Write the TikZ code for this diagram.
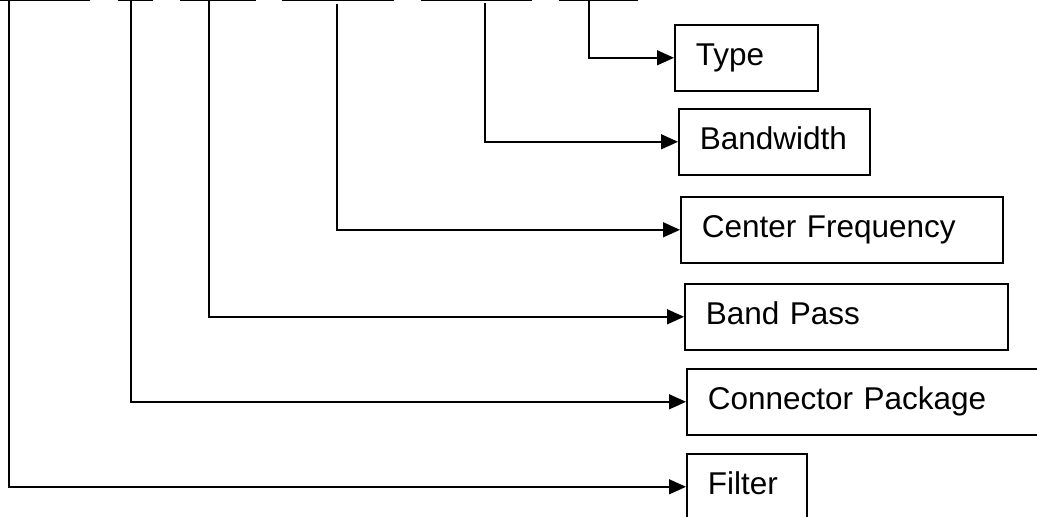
\documentclass[tikz,border=0pt]{standalone}
\usepackage{fontspec}
\setmainfont{Liberation Sans}
\usetikzlibrary{arrows.meta,positioning}

\begin{document}
\begin{tikzpicture}[
    x=1pt, y=-1pt,
    part/.style={draw, line width=1.6pt, anchor=north west, inner xsep=21pt, inner ysep=0pt,
                 minimum height=66pt, text height=24pt, text depth=8pt, align=left,
                 font=\fontsize{31.5}{36}\selectfont},
    link/.style={-{Triangle[length=17pt, width=15pt]}, line width=1.4pt},
    bar/.style={line width=1.6pt}
]
\path[use as bounding box, clip] (0,0) rectangle (1037,517);

% boxes
\node[part, text width=101pt] (typ) at (674,24) {Type};
\node[part, text width=149pt] (bw)  at (678,108) {Bandwidth};
\node[part, text width=280pt] (cf)  at (680,196) {Center Frequency};
\node[part, text width=281pt] (bp)  at (684,283) {Band Pass};
\node[part, text width=318pt] (cp)  at (686,368) {Connector Package};
\node[part, text width=78pt]  (flt) at (686,453) {Filter};

% part number underlines
\foreach \a/\b in {0/90, 118/153, 180/256, 282/394, 421/532, 559/638}
    \draw[bar] (\a,0.5) -- (\b,0.5);

\coordinate (t1) at (9,0);
\coordinate (t2) at (131,0);
\coordinate (t3) at (209,0);
\coordinate (t4) at (337,4);
\coordinate (t5) at (485,3);
\coordinate (t6) at (589,0);

\draw[link] (t1) |- (flt.west);
\draw[link] (t2) |- (cp.west);
\draw[link] (t3) |- (bp.west);
\draw[link] (t4) |- (cf.west);
\draw[link] (t5) |- (bw.west);
\draw[link] (t6) |- (typ.west);
\end{tikzpicture}
\end{document}
